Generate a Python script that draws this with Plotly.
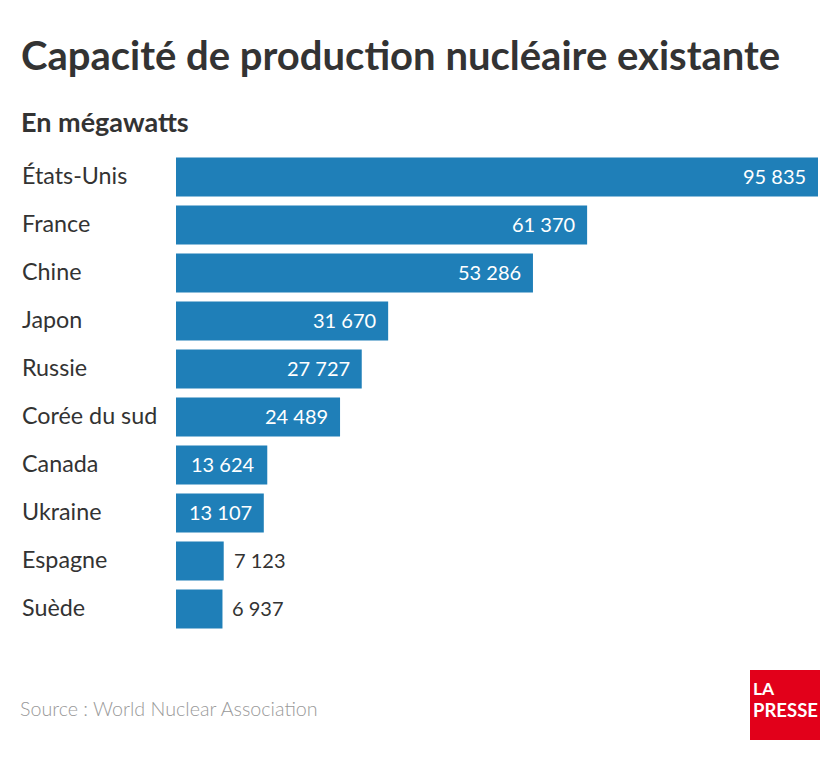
import plotly.graph_objects as go

countries = ["États-Unis", "France", "Chine", "Japon", "Russie", "Corée du sud",
             "Canada", "Ukraine", "Espagne", "Suède"]
values = [95835, 61370, 53286, 31670, 27727, 24489, 13624, 13107, 7123, 6937]
inside = [True, True, True, True, True, True, True, True, False, False]

def fmt(v):
    return f"{v:,}".replace(",", " ")

W, H = 840, 766
L, R, T, B = 176, 22, 153, 133
pw, ph = W - L - R, H - T - B

def px(x):
    return (x - L) / pw

def py(y):
    return (H - B - y) / ph

BAR = "#1f7fb8"
DARK = "#333333"
FONT = "Lato"

fig = go.Figure(go.Bar(
    x=values, y=countries, orientation="h",
    marker=dict(color=BAR, line=dict(width=0)),
    hoverinfo="skip",
))

annotations = []
for c, v, ins in zip(countries, values, inside):
    annotations.append(dict(
        x=v, y=c, xref="x", yref="y", text=fmt(v), showarrow=False,
        xanchor="right" if ins else "left", xshift=-10 if ins else 8, yshift=1,
        font=dict(family=FONT, size=20, color="white" if ins else DARK),
    ))
    annotations.append(dict(
        x=0, y=c, xref="paper", yref="y", text=c, showarrow=False,
        xanchor="left", xshift=20 - L, yshift=2,
        font=dict(family=FONT, size=23.3, color=DARK),
    ))

annotations += [
    dict(x=px(19), y=py(55), xref="paper", yref="paper", xanchor="left", yanchor="middle",
         text="<b>Capacité de production nucléaire existante</b>", showarrow=False,
         font=dict(family=FONT, size=40, color=DARK)),
    dict(x=px(19), y=py(121), xref="paper", yref="paper", xanchor="left", yanchor="middle",
         text="<b>En mégawatts</b>", showarrow=False,
         font=dict(family=FONT, size=27, color=DARK)),
    dict(x=px(18), y=py(708), xref="paper", yref="paper", xanchor="left", yanchor="middle",
         text="Source : World Nuclear Association", showarrow=False,
         font=dict(family=FONT, size=19.7, color="#999999", weight=300)),
    dict(x=px(751), y=py(688), xref="paper", yref="paper", xanchor="left", yanchor="middle",
         text="<b>LA</b>", showarrow=False,
         font=dict(family=FONT, size=17.5, color="white")),
    dict(x=px(751), y=py(710), xref="paper", yref="paper", xanchor="left", yanchor="middle",
         text="<b>PRESSE</b>", showarrow=False,
         font=dict(family=FONT, size=18.5, color="white")),
]

fig.update_layout(
    width=W, height=H,
    margin=dict(l=L, r=R, t=T, b=B, pad=0),
    paper_bgcolor="white", plot_bgcolor="white",
    bargap=0.19,
    showlegend=False,
    xaxis=dict(range=[0, 95835], visible=False, fixedrange=True),
    yaxis=dict(autorange="reversed", showticklabels=False, showgrid=False,
               zeroline=False, showline=False, ticks=""),
    annotations=annotations,
    shapes=[dict(type="rect", xref="paper", yref="paper",
                 x0=px(750), x1=px(820), y0=py(740), y1=py(670),
                 fillcolor="#e2001a", line=dict(width=0))],
)

fig.write_html("out.html")
